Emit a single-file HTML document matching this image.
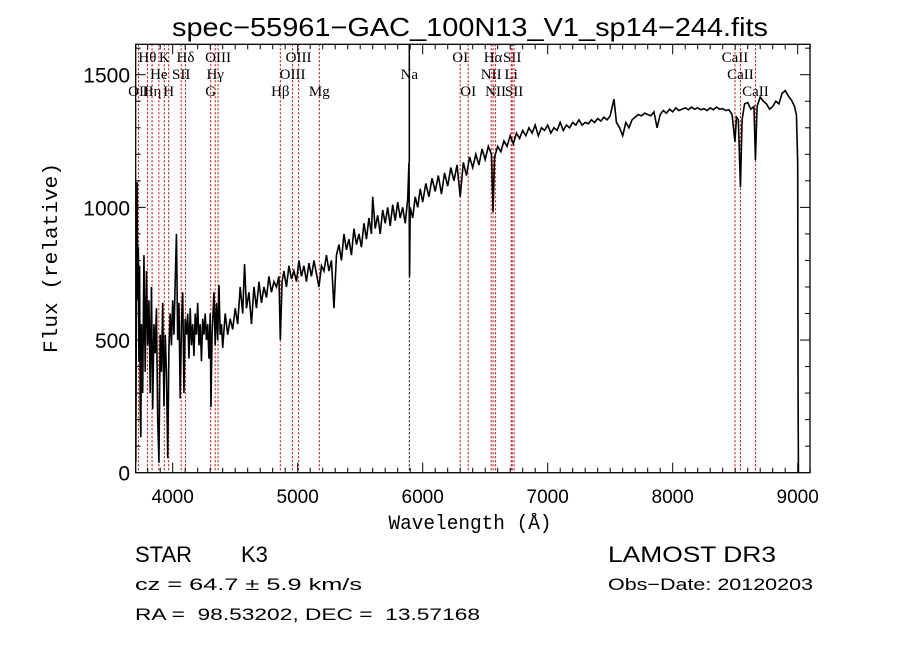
<!DOCTYPE html>
<html>
<head>
<meta charset="utf-8">
<style>
  html,body{margin:0;padding:0;background:#fff;}
  svg{display:block;}
  text{fill:#000;}
</style>
</head>
<body>
<svg id="chart" width="900" height="649" viewBox="0 0 900 649" xmlns="http://www.w3.org/2000/svg">
  <rect x="0" y="0" width="900" height="649" fill="#fff"/>
  <text x="172" y="36" font-family="Liberation Sans, sans-serif" font-size="26" textLength="596" lengthAdjust="spacingAndGlyphs">spec−55961−GAC_100N13_V1_sp14−244.fits</text>
  <g id="lines"></g>
  <g id="spec"></g>
  <g id="axes"></g>
  <text transform="translate(57,258) rotate(-90)" text-anchor="middle" font-family="Liberation Mono, monospace" font-size="20" textLength="190" lengthAdjust="spacingAndGlyphs">Flux (relative)</text>
  <text x="470" y="529" text-anchor="middle" font-family="Liberation Mono, monospace" font-size="20" textLength="163" lengthAdjust="spacingAndGlyphs">Wavelength (Å)</text>
  <text x="135" y="562" font-family="Liberation Sans, sans-serif" font-size="22" xml:space="preserve" style="white-space:pre">STAR</text>
  <text x="241" y="562" font-family="Liberation Sans, sans-serif" font-size="22">K3</text>
  <text x="135" y="590" font-family="Liberation Sans, sans-serif" font-size="17" textLength="227" lengthAdjust="spacingAndGlyphs">cz = 64.7 ± 5.9 km/s</text>
  <text x="135" y="620" font-family="Liberation Sans, sans-serif" font-size="17" textLength="345" lengthAdjust="spacingAndGlyphs" xml:space="preserve" style="white-space:pre">RA =  98.53202, DEC =  13.57168</text>
  <text x="608" y="562" font-family="Liberation Sans, sans-serif" font-size="22" textLength="168" lengthAdjust="spacingAndGlyphs">LAMOST DR3</text>
  <text x="608" y="590" font-family="Liberation Sans, sans-serif" font-size="17" textLength="205" lengthAdjust="spacingAndGlyphs">Obs−Date: 20120203</text>
</svg>
<script>
const wavelengths = [3705,3710,3715,3720,3725,3730,3735,3740,3745,3750,3760,3770,3780,3790,3800,3810,3820,3830,3840,3850,3860,3870,3880,3890,3900,3910,3920,3930,3940,3950,3960,3970,3980,3990,4000,4010,4020,4030,4040,4050,4060,4070,4080,4090,4100,4110,4120,4130,4140,4150,4160,4170,4180,4190,4200,4210,4220,4230,4240,4250,4260,4270,4280,4290,4300,4306,4315,4330,4340,4350,4360,4370,4380,4390,4400,
4420,4440,4460,4480,4500,4520,4540,4560,4575,4590,4610,4630,4650,4670,4690,4710,4730,4750,4770,4790,4810,4830,4850,4861,4875,4890,4910,4930,4950,4970,4990,5010,5030,5050,5070,5090,5110,5130,5150,5170,5190,5210,5230,5250,5270,5290,5310,5330,5350,5370,5390,5410,5430,5450,5470,5490,5510,5530,5550,5570,5590,5600,5620,5640,5660,5680,5700,5720,5740,5760,5780,5800,5820,5840,5860,5880,5890,5895,5900,5920,5940,5960,5980,6000,
6025,6050,6075,6100,6125,6150,6175,6200,6225,6250,6275,6300,6325,6350,6375,6400,6425,6450,6475,6500,6525,6550,6563,6575,6600,6625,6650,6675,6700,6725,6750,6775,6800,6825,6850,6875,6900,6925,6950,6975,7000,7025,7050,7075,7100,7125,7150,7175,7200,7225,7250,7275,7300,7325,7350,7375,7400,7425,7450,7475,7500,7530,7550,7575,7600,7625,7650,7675,7700,7725,7750,7775,7800,7825,7850,7875,7900,7925,7950,7975,8000,8025,8050,8075,8100,8125,8150,8175,8200,8225,8250,8275,8300,8325,8350,8375,8400,8425,8450,8475,8498,8510,8525,8542,8555,8575,8600,8625,8650,8662,8675,8700,8725,8750,8775,8800,8825,8850,8875,8900,8925,8950,8975,8990,9000,9003,9006];
const fluxValues = [40,700,1095,650,850,420,780,250,134,560,300,820,380,760,480,650,300,700,240,560,450,620,200,37,520,380,640,250,520,380,55,470,600,480,650,520,720,900,500,640,280,560,680,300,580,520,600,430,620,480,560,440,600,520,640,480,560,420,580,520,600,500,560,430,600,247,520,680,480,640,500,707,520,560,470,
600,520,580,540,620,560,700,600,786,620,680,560,700,620,720,640,700,660,740,680,720,700,740,500,720,760,700,780,730,760,720,800,740,780,720,790,740,800,750,700,780,760,820,760,800,620,820,860,800,900,840,880,820,920,860,900,850,940,880,960,900,1040,920,970,900,990,940,1000,930,1010,950,1020,960,1000,940,1030,1170,740,1000,960,1040,1000,1070,1020,
1090,1040,1110,1060,1120,1050,1130,1080,1150,1100,1160,1040,1170,1120,1190,1150,1200,1160,1220,1180,1230,1200,982,1190,1230,1210,1250,1230,1270,1240,1280,1260,1290,1270,1300,1280,1310,1270,1300,1290,1310,1280,1300,1290,1320,1290,1310,1300,1320,1310,1330,1310,1320,1315,1330,1320,1335,1325,1340,1330,1345,1408,1320,1300,1270,1320,1300,1330,1340,1350,1345,1355,1350,1345,1360,1300,1350,1365,1355,1370,1360,1375,1365,1370,1375,1368,1378,1370,1375,1368,1372,1365,1375,1368,1378,1370,1372,1365,1368,1350,1246,1340,1330,1076,1330,1390,1395,1370,1380,1178,1380,1416,1400,1390,1370,1380,1400,1390,1430,1440,1420,1404,1380,1348,1167,280,0];
const xTicks = [4000,5000,6000,7000,8000,9000];
const yTicks = [0,500,1000,1500];
const lineWaves = [3727,3798,3835,3889,3933,3968,4068,4102,4304,4340,4363,4861,4959,5007,5173,5893,6300,6364,6548,6563,6583,6708,6716,6731,8498,8542,8662];
const lineNames = ["OII","Hθ","Hη","He","K","H","SII","Hδ","G","Hγ","OIII","Hβ","OIII","OIII","Mg","Na","OI","OI","NII","Hα","NII","Li","SII","SII","CaII","CaII","CaII"];
const lineRows = [2,0,2,1,0,2,1,0,2,1,0,2,1,0,2,1,0,2,1,0,2,1,0,2,0,1,2];

const L=135.7, R=810, T=44.3, B=472.7;
const xS = w => 297.7 + (w-5000)*0.125;
const yS = f => B - f*0.26533;
const NS='http://www.w3.org/2000/svg';
function mk(tag, attrs, parent){const e=document.createElementNS(NS,tag);for(const k in attrs)e.setAttribute(k,attrs[k]);parent.appendChild(e);return e;}

const defs = mk('defs',{},document.getElementById('chart'));
const cp = mk('clipPath',{id:'plotclip'},defs);
mk('rect',{x:L,y:T,width:R-L,height:B-T},cp);

const lg=document.getElementById('lines');
lineWaves.forEach((w,i)=>{
  const x=xS(w);
  const isNa = lineNames[i]==='Na';
  const ln=mk('line',{x1:x,x2:x,y1:T,y2:B,stroke:isNa?'#000':'#c00000','stroke-width':1,'stroke-dasharray':'2,2'},lg);
  
  
  if(isNa){
    const s=mk('line',{x1:x,x2:x,y1:T,y2:yS(1170),stroke:'#000','stroke-width':1.5},lg);
    
    
  }
  const t=mk('text',{x:x,y:62+lineRows[i]*17,'text-anchor':'middle','font-family':'Liberation Serif, serif','font-size':15},lg);
  t.textContent=lineNames[i];
  
  
});

const sg=document.getElementById('spec');
let d='';
wavelengths.forEach((w,i)=>{d+=(i?'L':'M')+xS(w).toFixed(2)+','+yS(fluxValues[i]).toFixed(2);});
const p=mk('path',{d:d,fill:'none',stroke:'#000','stroke-width':1.6,'clip-path':'url(#plotclip)','stroke-linejoin':'miter'},sg);



const ag=document.getElementById('axes');
const frame=mk('rect',{x:L,y:T,width:R-L,height:B-T,fill:'none',stroke:'#000','stroke-width':1.3},ag);


for(let w=3800; w<=9100; w+=100){
  const x=xS(w); const major=(w%1000===0); const len=major?10:5;
  mk('line',{x1:x,x2:x,y1:B,y2:B-len,stroke:'#000','stroke-width':1},ag);
  mk('line',{x1:x,x2:x,y1:T,y2:T+len,stroke:'#000','stroke-width':1},ag);
}
for(let f=100; f<=1600; f+=100){
  const y=yS(f); const major=(f%500===0); const len=major?10:5;
  mk('line',{x1:L,x2:L+len,y1:y,y2:y,stroke:'#000','stroke-width':1},ag);
  mk('line',{x1:R,x2:R-len,y1:y,y2:y,stroke:'#000','stroke-width':1},ag);
}
xTicks.forEach(w=>{
  const t=mk('text',{x:xS(w),y:503,'text-anchor':'middle','font-family':'Liberation Sans, sans-serif','font-size':19},ag);
  t.textContent=w;
  
  
});
yTicks.forEach(f=>{
  const t=mk('text',{x:130,y:yS(f)+8,'text-anchor':'end','font-family':'Liberation Sans, sans-serif','font-size':21},ag);
  t.textContent=f;
  
  
});
</script>
</body>
</html>
